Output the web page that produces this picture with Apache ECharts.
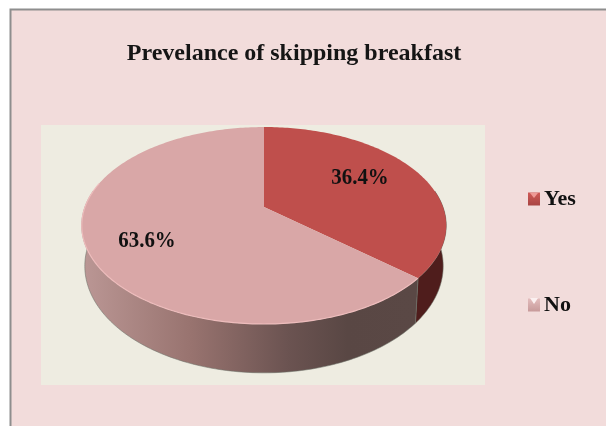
<!DOCTYPE html>
<html>
<head>
<meta charset="utf-8">
<style>html,body{margin:0;padding:0;background:#fff}#c{width:606px;height:426px;filter:blur(0.45px)}</style>
<script src="https://cdn.jsdelivr.net/npm/echarts@6/dist/echarts.min.js"></script>
</head>
<body>
<div id="c"></div>
<script>
const categories = ['Yes', 'No'];
const percentages = [36.4, 63.6];
const titleText = 'Prevelance of skipping breakfast';
const topColors = ['#bf4f4c', '#d9a7a7'];
const labelCentres = [[360, 178], [147, 241]];

const SERIF = '"Liberation Serif","Times New Roman",serif';
const total = percentages.reduce((a, b) => a + b, 0);
const P = -0.188, CX = 264;
const topDisc = { k: 179, b: 95, y0: 207 };
const lowDisc = { k: 176, b: 103, y0: 246 };
function project(d, deg) {
  const t = deg * Math.PI / 180, u = Math.sin(t), v = -Math.cos(t), w = 1 + P * v;
  return [CX + d.k * u / w, d.y0 + d.b * v / w];
}
function arc(d, from, to) {
  const pts = [], n = Math.max(2, Math.ceil(Math.abs(to - from)));
  for (let i = 0; i <= n; i++) pts.push(project(d, from + (to - from) * i / n));
  return pts;
}
function sideFill(i) {
  if (i === 0) return '#4f1d1c';
  return { type: 'linear', x: 82, y: 0, x2: 414, y2: 0, global: true, colorStops: [
    { offset: 0, color: '#bb9795' }, { offset: 0.33, color: '#98736f' },
    { offset: 0.62, color: '#6b5351' }, { offset: 0.8, color: '#594744' }, { offset: 1, color: '#5a4845' }] };
}
function sliceItem(i) {
  return function (params, api) {
    const value = api.value(0), before = api.value(1);
    const a0 = before / total * 360, a1 = (before + value) / total * 360;
    const s0 = Math.max(a0, 80), s1 = Math.min(a1, 280);
    const side = arc(topDisc, s0, s1).concat(arc(lowDisc, s1, s0));
    const top = [[CX, topDisc.y0]].concat(arc(topDisc, a0, a1));
    const children = [
      { type: 'polygon', z2: 1, shape: { points: side },
        style: { fill: sideFill(i), stroke: 'rgba(110,115,105,0.55)', lineWidth: 1 } },
      { type: 'polygon', z2: 2, shape: { points: top }, style: { fill: topColors[i] } },
      { type: 'text', z2: 4, x: labelCentres[i][0], y: labelCentres[i][1], scaleX: 0.87,
        style: { x: 0, y: 0, text: value.toFixed(1) + '%',
          font: 'bold 24px ' + SERIF, fill: '#111', align: 'center', verticalAlign: 'middle' } }
    ];
    if (i === 1) children.push({ type: 'polyline', z2: 3, shape: { points: arc(topDisc, Math.max(a0, 131), 285) },
      style: { fill: null, stroke: '#eebcbc', lineWidth: 1.2 } });
    return { type: 'group', children };
  };
}
let running = 0;
const series = categories.map((name, i) => {
  const row = [percentages[i], running];
  running += percentages[i];
  return { type: 'custom', name, coordinateSystem: 'none', renderItem: sliceItem(i), data: [row],
    itemStyle: { color: topColors[i] }, animation: false, silent: true };
});
const legendFills = [
  { type: 'linear', x: 0, y: 0, x2: 0, y2: 1, colorStops: [{ offset: 0, color: '#cf5a57' }, { offset: 1, color: '#a84543' }] },
  { type: 'linear', x: 0, y: 0, x2: 0, y2: 1, colorStops: [{ offset: 0, color: '#e3bdbd' }, { offset: 1, color: '#c79a9a' }] }
];
const chart = echarts.init(document.getElementById('c'), null, { renderer: 'canvas' });
chart.setOption({
  animation: false,
  backgroundColor: '#ffffff',
  title: { text: titleText, left: 289, top: 37, textAlign: 'center',
    textStyle: { fontFamily: SERIF, fontWeight: 'bold', fontSize: 24, color: '#151515' } },
  legend: {
    orient: 'vertical', left: 523, top: 183, itemWidth: 12, itemHeight: 13, itemGap: 84, icon: 'rect', selectedMode: false,
    textStyle: { fontFamily: SERIF, fontWeight: 'bold', fontSize: 22, color: '#111', padding: [0, 0, 0, -1] },
    data: categories.map((name, i) => ({ name, itemStyle: { color: legendFills[i] } }))
  },
  graphic: [
    { type: 'rect', z: -10, shape: { x: 10.5, y: 9.5, width: 620, height: 440 }, style: { fill: '#f2dcdb', stroke: '#8e8e8e', lineWidth: 2 } },
    { type: 'rect', z: -9, shape: { x: 41, y: 125, width: 444, height: 260 }, style: { fill: '#eeece1' } },
    { type: 'polygon', z: 20, shape: { points: [[530, 193], [538, 193], [534, 198]] }, style: { fill: '#ee9a96' } },
    { type: 'polygon', z: 20, shape: { points: [[530, 298], [538, 298], [534, 304]] }, style: { fill: '#fbf0f0' } }
  ],
  series
});
</script>
</body>
</html>
